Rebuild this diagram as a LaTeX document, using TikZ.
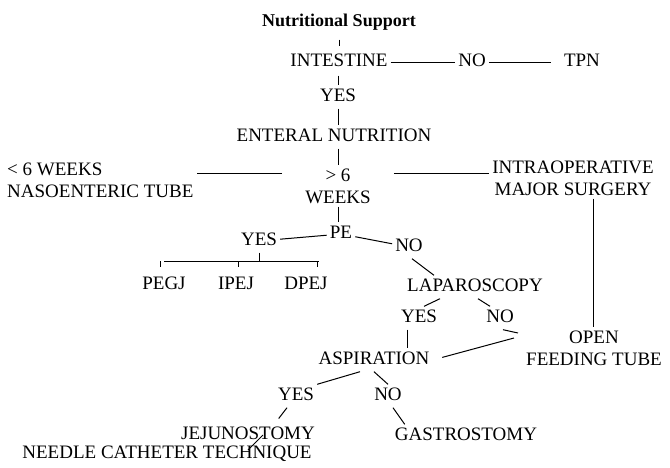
\documentclass[tikz,border=0pt]{standalone}
\usepackage{fontspec}
\setmainfont{Liberation Serif}

\tikzset{
  lbl/.style={font=\fontsize{19}{22}\selectfont, inner sep=3pt, text height=13pt, text depth=4pt},
  lbls/.style={font=\fontsize{19}{22}\selectfont, inner sep=3pt},
  link/.style={line width=1pt}
}

\begin{document}
\begin{tikzpicture}[x=1pt, y=-1pt]
  \useasboundingbox (0,0) rectangle (670,467);
  % top of the tree
  \node[lbl, font=\fontsize{18}{20}\selectfont\bfseries] (nutr) at (339,22) {Nutritional Support};
  \node[lbl] (intestine) at (339,62) {INTESTINE};
  \node[lbl] (notpn) at (472,62) {NO};
  \node[lbl] (tpn) at (582,62) {TPN};
  \node[lbl] (yesone) at (338,97) {YES};
  \node[lbl] (enteral) at (334,137) {ENTERAL NUTRITION};
  % duration
  \node[lbls, align=left, anchor=west] (ltsix) at (4,180) {< 6 WEEKS\\NASOENTERIC TUBE};
  \node[lbls, align=center] (gtsix) at (338,186) {> 6\\WEEKS};
  \node[lbls, align=center] (intraop) at (573,178) {INTRAOPERATIVE\\MAJOR SURGERY};
  % PE branch
  \node[lbl] (pe) at (341,234) {PE};
  \node[lbl] (yestwo) at (259,241) {YES};
  \node[lbl] (notwo) at (409,247) {NO};
  \node[lbl] (pegj) at (164,285) {PEGJ};
  \node[lbl] (ipej) at (236,285) {IPEJ};
  \node[lbl] (dpej) at (306,285) {DPEJ};
  \coordinate (bar) at (259,261);
  % laparoscopy
  \node[lbl] (lap) at (475,287) {LAPAROSCOPY};
  \node[lbl] (yesthree) at (419,318) {YES};
  \node[lbl] (nothree) at (500,318) {NO};
  \node[lbls, align=center] (open) at (594,348) {OPEN\\FEEDING TUBE};
  \node[lbl] (asp) at (374,360) {ASPIRATION};
  \node[lbl] (yesfour) at (296,396) {YES};
  \node[lbl] (nofour) at (388,396) {NO};
  \node[lbl] (jej) at (248,435) {JEJUNOSTOMY};
  \node[lbl] (gastro) at (466,436) {GASTROSTOMY};
  \node[lbl] (needle) at (167,454) {NEEDLE CATHETER TECHNIQUE};

  \draw[link, shorten <=6pt, shorten >=4pt] (nutr) -- (intestine);
  \draw[link] (intestine) -- (notpn);
  \draw[link, shorten >=10pt] (notpn) -- (tpn);
  \draw[link, shorten <=2pt] (intestine.south -| yesone) -- (yesone);
  \draw[link] (yesone) -- (enteral.north -| yesone);
  \draw[link] (enteral.south -| yesone) -- (gtsix.north -| yesone);
  \draw[link, shorten <=20pt] ([yshift=13pt]gtsix.west) -- ([yshift=13pt]gtsix.west -| ltsix.east);
  \draw[link, shorten <=20pt] ([yshift=13pt]gtsix.east) -- ([yshift=13pt]gtsix.east -| intraop.west);
  \draw[link] (gtsix.south -| yesone) -- (pe.north -| yesone);
  \draw[link] (pe) -- (yestwo);
  \draw[link] (pe) -- (notwo);
  % bracket under YES
  \draw[link] (yestwo.south -| bar) -- (bar);
  \draw[link] (bar -| pegj) -- ([xshift=-12pt]bar -| dpej.north east);
  \foreach \n/\dx in {pegj/-4, ipej/2, dpej/11}
    \draw[link] ([xshift=\dx pt]bar -| \n) -- ++(0,6);
  % NO side
  \draw[link] ([xshift=3pt]notwo.south) -- ([xshift=-41pt]lap.north);
  \draw[link] ([xshift=-35pt]lap.south) -- ([xshift=5pt]yesthree.north);
  \draw[link] ([xshift=3pt]lap.south) -- ([xshift=-10pt]nothree.north);
  \draw[link] ([xshift=3pt]nothree.south) -- ([xshift=-5pt,yshift=15pt]open.west);
  \draw[link] ([xshift=20pt]intraop.south) -- ([xshift=20pt]intraop.south |- open.north);
  \draw[link] ([xshift=-12pt]yesthree.south) -- ([xshift=-12pt]yesthree.south |- asp.north);
  \draw[link, shorten <=10pt] (asp.east) -- ([xshift=-9pt,yshift=10pt]open.west);
  % aspiration
  \draw[link] ([xshift=-14pt]asp.south) -- (yesfour.north east);
  \draw[link] (asp.south) -- (nofour.north);
  \draw[link, shorten >=6pt] ([xshift=-9pt]yesfour.south) -- ([xshift=27pt]jej.north);
  \draw[link] ([xshift=5pt]nofour.south) -- ([xshift=13pt]gastro.north west);
  \draw[link] ([xshift=15pt]jej.center) -- ([xshift=81pt,yshift=4pt]needle.center);
\end{tikzpicture}
\end{document}
